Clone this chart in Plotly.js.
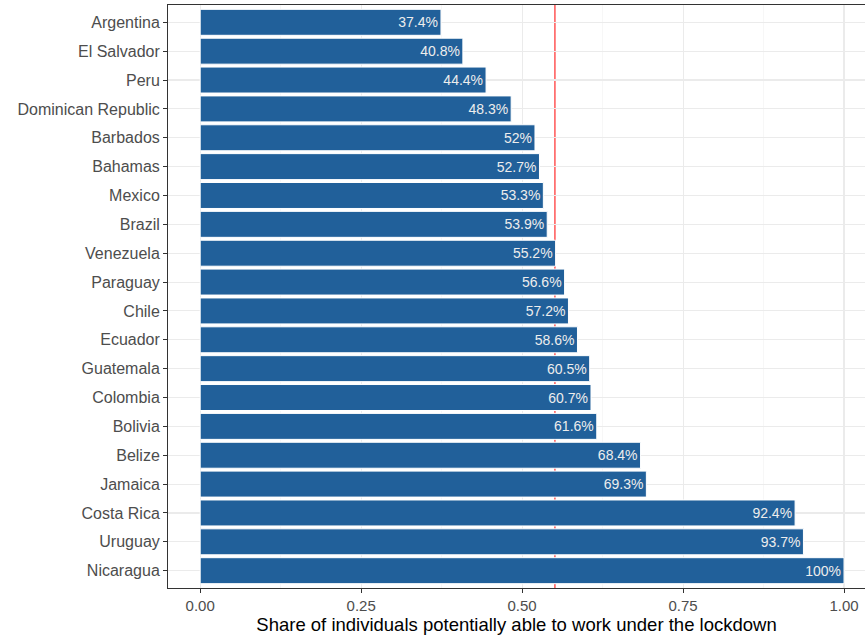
<!DOCTYPE html>
<html>
<head>
<meta charset="utf-8">
<script src="https://cdn.plot.ly/plotly-3.0.1.min.js"></script>
<style>html,body{margin:0;padding:0;background:#fff;}#chart{width:865px;height:635px;}</style>
</head>
<body>
<div id="chart"></div>
<script>
const countries = ["Argentina","El Salvador","Peru","Dominican Republic","Barbados","Bahamas","Mexico","Brazil","Venezuela","Paraguay","Chile","Ecuador","Guatemala","Colombia","Bolivia","Belize","Jamaica","Costa Rica","Uruguay","Nicaragua"];
const shares = [0.374,0.408,0.444,0.483,0.52,0.527,0.533,0.539,0.552,0.566,0.572,0.586,0.605,0.607,0.616,0.684,0.693,0.924,0.937,1.0];
const referenceLine = 0.551;
const xTicks = [0,0.25,0.5,0.75,1.0];
const xTickLabels = ["0.00","0.25","0.50","0.75","1.00"];

const labels = shares.map(v => String(+(v*100).toFixed(1)) + '%');

const trace = {
  type: 'bar',
  orientation: 'h',
  x: shares,
  y: countries,
  width: 0.9,
  marker: {color: '#21609A', line: {color: '#ffffff', width: 1}},
  text: labels,
  textposition: 'inside',
  insidetextanchor: 'end',
  textangle: 0,
  constraintext: 'none',
  textfont: {color: '#EDEDED', size: 14, family: 'Liberation Sans, Arial, sans-serif'},
  hoverinfo: 'none'
};

const layout = {
  width: 865, height: 635,
  margin: {l: 168, r: 0, t: 5, b: 47, pad: 0},
  paper_bgcolor: '#ffffff', plot_bgcolor: '#ffffff',
  font: {family: 'Liberation Sans, Arial, sans-serif', color: '#4D4D4D', size: 16},
  showlegend: false,
  bargap: 0.1,
  xaxis: {
    range: [-0.05, 1.0326],
    tickvals: xTicks, ticktext: xTickLabels,
    ticks: 'outside', ticklen: 4, tickcolor: '#333333', tickwidth: 1,
    showgrid: true, gridcolor: '#EBEBEB', gridwidth: 1.1,
    minor: {tickvals: [0.125,0.375,0.625,0.875], showgrid: true, gridcolor: '#F2F2F2', gridwidth: 0.6, ticks: ''},
    showline: true, linecolor: '#333333', linewidth: 1, mirror: true,
    zeroline: false,
    tickfont: {size: 15, color: '#4D4D4D'},
    title: {text: 'Share of individuals potentially able to work under the lockdown', font: {size: 18.5, color: '#000000'}, standoff: 3}
  },
  yaxis: {
    type: 'category',
    categoryorder: 'array', categoryarray: countries,
    range: [19.6, -0.6],
    ticks: 'outside', ticklen: 4, tickcolor: '#333333', tickwidth: 1,
    showgrid: true, gridcolor: '#EBEBEB', gridwidth: 1.1,
    showline: true, linecolor: '#333333', linewidth: 1, mirror: true,
    zeroline: false,
    tickfont: {size: 16, color: '#4D4D4D'}
  },
  shapes: [{
    type: 'line', layer: 'between',
    xref: 'x', yref: 'paper',
    x0: referenceLine, x1: referenceLine, y0: 0, y1: 1,
    line: {color: '#FF0000', width: 1}
  }]
};

Plotly.newPlot('chart', [trace], layout, {displayModeBar: false, staticPlot: true});
</script>
</body>
</html>
